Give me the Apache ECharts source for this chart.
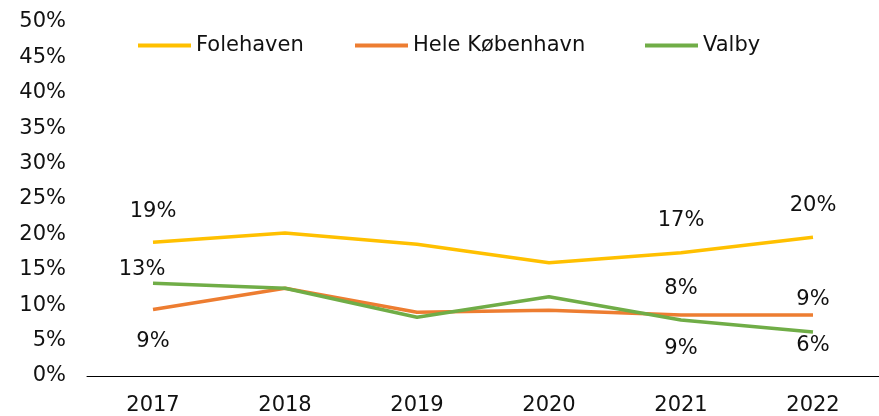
<!DOCTYPE html>
<html>
<head>
<meta charset="utf-8">
<script src="https://cdn.jsdelivr.net/npm/echarts@6/dist/echarts.min.js"></script>
<style>html,body{margin:0;padding:0;background:#fff}#c{width:879px;height:416px}</style>
</head>
<body>
<div id="c"></div>
<script>
const categories = ['2017', '2018', '2019', '2020', '2021', '2022'];
const folehaven = [18.9, 20.2, 18.6, 16.0, 17.4, 19.6];
const heleKobenhavn = [9.4, 12.4, 9.0, 9.3, 8.6, 8.6];
const valby = [13.1, 12.4, 8.3, 11.2, 7.9, 6.2];
const seriesNames = ['Folehaven', 'Hele København', 'Valby'];

// which points carry a value label, and where (styling only)
const labelPlacement = {
  'Folehaven': {0: ['top', 20, 0], 4: ['top', 22, 0], 5: ['top', 21, 0]},
  'Hele København': {0: ['bottom', 22, 0], 4: ['bottom', 23, 0], 5: ['top', 5, 0]},
  'Valby': {0: ['top', 3, -11], 4: ['top', 21, 0], 5: ['bottom', 3, 0]}
};
const legendLeft = [138, 355, 645];
const colors = ['#FFC000', '#ED7D31', '#70AD47'];
const font = '"DejaVu Sans", sans-serif';

function buildData(name, values) {
  return values.map((v, i) => {
    const p = labelPlacement[name][i];
    if (!p) return { value: v, label: { show: false } };
    return {
      value: v,
      label: { show: true, position: p[0], distance: p[1], offset: [p[2], 0],
        formatter: d => Math.round(d.value) + '%', fontSize: 21, color: '#111', fontFamily: font }
    };
  });
}

function mkSeries(idx, values, z) {
  return {
    name: seriesNames[idx], type: 'line', data: buildData(seriesNames[idx], values),
    showSymbol: true, symbol: 'circle', symbolSize: 0.01,
    itemStyle: { color: colors[idx] },
    lineStyle: { width: 3.5, color: colors[idx] }, z: z
  };
}

const chart = echarts.init(document.getElementById('c'));
chart.setOption({
  animation: false,
  color: colors,
  grid: { left: 87, right: -6, top: 22, bottom: 40, containLabel: false },
  legend: seriesNames.map((n, i) => ({
    top: 35, left: legendLeft[i], padding: 0, itemWidth: 53, itemHeight: 4, itemGap: 6, icon: 'rect',
    textStyle: { fontSize: 21, color: '#111', fontFamily: font },
    data: [n]
  })),
  xAxis: {
    type: 'category', data: categories, boundaryGap: true,
    axisLine: { lineStyle: { color: '#000', width: 1 } },
    axisTick: { show: false },
    axisLabel: { fontSize: 21, color: '#111', margin: 19, fontFamily: font }
  },
  yAxis: {
    type: 'value', min: 0, max: 50, interval: 5,
    axisLine: { show: false }, axisTick: { show: false },
    splitLine: { show: false },
    axisLabel: { formatter: '{value}%', fontSize: 21, color: '#111', margin: 21, fontFamily: font, padding: [6, 0, 0, 0] }
  },
  series: [
    mkSeries(0, folehaven, 3),
    mkSeries(1, heleKobenhavn, 2),
    mkSeries(2, valby, 4)
  ]
});
</script>
</body>
</html>
